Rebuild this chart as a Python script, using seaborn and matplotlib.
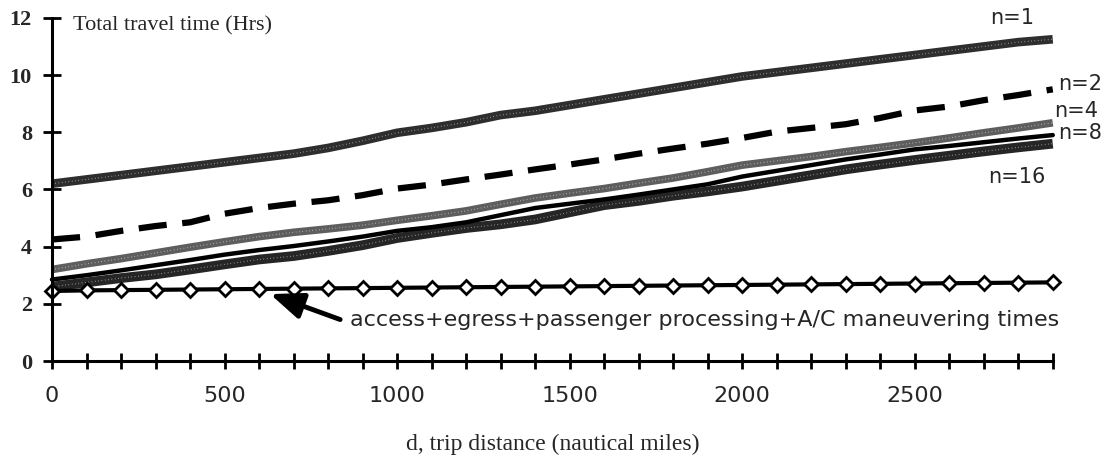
import numpy as np
import pandas as pd
import matplotlib
matplotlib.use('Agg')
import matplotlib.pyplot as plt
import seaborn as sns

# distance (nautical miles), one reading every 100 nm
distance = list(range(0, 3000, 100))

# total travel time (hrs)
n1 = [6.2, 6.35, 6.5, 6.65, 6.8, 6.95, 7.1, 7.25, 7.45, 7.7,
      7.98, 8.15, 8.35, 8.6, 8.75, 8.95, 9.15, 9.35, 9.55, 9.75,
      9.95, 10.1, 10.25, 10.4, 10.55, 10.7, 10.85, 11.0, 11.15, 11.25]
n2 = [4.25, 4.35, 4.55, 4.72, 4.85, 5.15, 5.35, 5.5, 5.62, 5.8,
      6.03, 6.17, 6.35, 6.52, 6.7, 6.87, 7.05, 7.25, 7.43, 7.6,
      7.8, 8.02, 8.15, 8.28, 8.5, 8.76, 8.9, 9.12, 9.3, 9.5]
n4 = [3.2, 3.4, 3.58, 3.78, 3.98, 4.17, 4.35, 4.5, 4.62, 4.75,
      4.92, 5.08, 5.25, 5.48, 5.7, 5.87, 6.03, 6.22, 6.4, 6.62,
      6.85, 7.0, 7.15, 7.32, 7.47, 7.63, 7.8, 7.98, 8.15, 8.33]
n8 = [2.85, 3.0, 3.17, 3.35, 3.53, 3.72, 3.88, 4.02, 4.18, 4.35,
      4.55, 4.68, 4.85, 5.1, 5.35, 5.5, 5.65, 5.82, 6.0, 6.18,
      6.45, 6.65, 6.85, 7.05, 7.22, 7.4, 7.52, 7.65, 7.78, 7.9]
n16 = [2.6, 2.75, 2.9, 3.03, 3.2, 3.38, 3.55, 3.67, 3.85, 4.05,
       4.3, 4.48, 4.65, 4.78, 4.95, 5.2, 5.45, 5.6, 5.78, 5.93,
       6.1, 6.3, 6.5, 6.7, 6.87, 7.03, 7.18, 7.33, 7.47, 7.6]
# access + egress + passenger processing + A/C maneuvering
fixed_time = [2.45, 2.47, 2.48, 2.49, 2.5, 2.51, 2.52, 2.53, 2.54, 2.55,
              2.56, 2.57, 2.58, 2.59, 2.6, 2.61, 2.62, 2.63, 2.64, 2.65,
              2.66, 2.67, 2.68, 2.69, 2.7, 2.71, 2.72, 2.73, 2.74, 2.75]

series_labels = ['n=1', 'n=2', 'n=4', 'n=8', 'n=16']

df = pd.DataFrame({'d': distance, 'n=1': n1, 'n=2': n2, 'n=4': n4,
                   'n=8': n8, 'n=16': n16, 'fixed': fixed_time})

sns.set_style('ticks')
plt.rcParams['font.family'] = ['DejaVu Sans']

fig = plt.figure(figsize=(11.07, 4.57), dpi=100)
ax = fig.add_axes([0.047, 0.21, 0.904, 0.751])

# stippled bands -> grey thick line with a fine white dotted texture
def band(col, color, lw):
    sns.lineplot(data=df, x='d', y=col, ax=ax, color=color, linewidth=lw,
                 clip_on=False, solid_capstyle='butt')
    sns.lineplot(data=df, x='d', y=col, ax=ax, color='white', linewidth=0.8,
                 linestyle=(0, (0.5, 2.5)), alpha=0.8, clip_on=False)

band('n=1', '#2e2e2e', 6.2)
band('n=16', '#262626', 7)
band('n=4', '#5e5e5e', 5.5)
sns.lineplot(data=df, x='d', y='n=8', ax=ax, color='black', linewidth=3.2,
             clip_on=False)
sns.lineplot(data=df, x='d', y='n=2', ax=ax, color='black', linewidth=4.5,
             linestyle=(0, (4.5, 2.5)), clip_on=False)
sns.lineplot(data=df, x='d', y='fixed', ax=ax, color='black', linewidth=3,
             marker='D', markersize=7, markerfacecolor='white',
             markeredgecolor='black', markeredgewidth=2, clip_on=False)

ax.set_xlim(0, 2900)
ax.set_ylim(0, 12)
ax.set_xticks(range(0, 2901, 500))
ax.set_xticks(range(0, 2901, 100), minor=True)
ax.set_yticks(range(0, 13, 2))
ax.tick_params(axis='both', which='both', direction='inout', width=2,
               color='black')
ax.tick_params(axis='y', length=13, pad=8)
ax.tick_params(axis='x', which='both', length=12, pad=12, labelsize=16)
for lab in ax.get_yticklabels():
    lab.set_family(['Liberation Serif'])
    lab.set_fontweight('bold')
    lab.set_fontsize(16)
sns.despine(ax=ax)
for s in ['left', 'bottom']:
    ax.spines[s].set_linewidth(2.2)
    ax.spines[s].set_color('black')

ax.set_xlabel('d, trip distance (nautical miles)', family=['Liberation Serif'],
              fontsize=17, labelpad=20)
ax.set_ylabel('')
ax.text(0.021, 0.978, 'Total travel time (Hrs)', transform=ax.transAxes,
        family=['Liberation Serif'], fontsize=16, va='center', ha='left')

# series labels at the right end
label_pos = {'n=1': (2783, 12.0, 'center'), 'n=2': (2916, 9.7, 'left'),
             'n=4': (2905, 8.73, 'left'), 'n=8': (2915, 7.97, 'left'),
             'n=16': (2797, 6.44, 'center')}
for lab in series_labels:
    x, y, ha = label_pos[lab]
    ax.text(x, y, lab, fontsize=15, ha=ha, va='center', clip_on=False)

ax.annotate('', xy=(632, 2.34), xytext=(835, 1.45), annotation_clip=False,
            arrowprops=dict(arrowstyle='-|>,head_length=1.0,head_width=0.4',
                            color='black', lw=3.5, mutation_scale=20,
                            shrinkA=0, shrinkB=0))
ax.text(864, 1.45, 'access+egress+passenger processing+A/C maneuvering times',
        fontsize=16, va='center', ha='left')

fig.savefig('out.png', dpi=100)
